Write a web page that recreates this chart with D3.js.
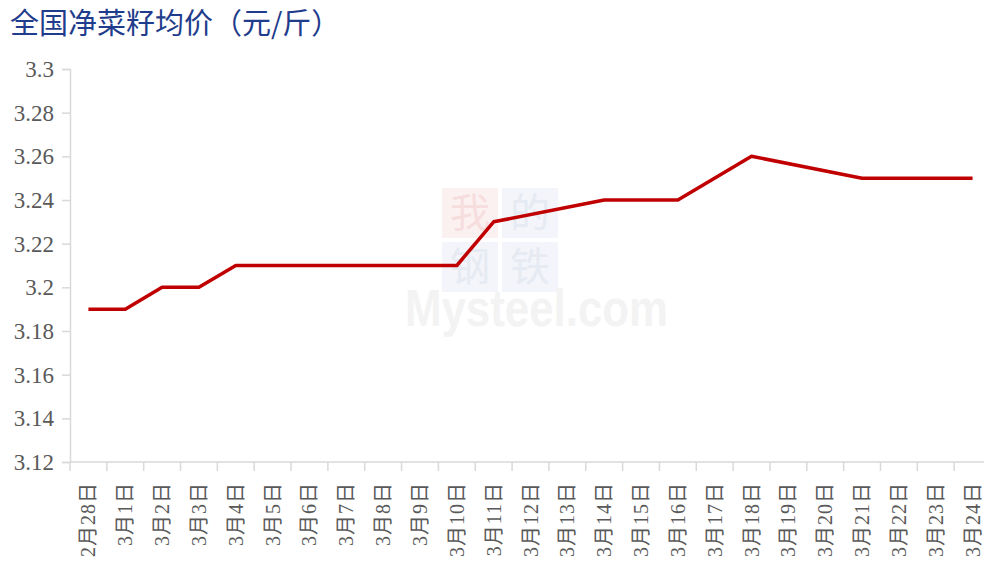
<!DOCTYPE html>
<html>
<head>
<meta charset="utf-8">
<script src="https://cdn.jsdelivr.net/npm/d3@7"></script>
<style>
  body { margin: 0; background: #fff; }
  svg { display: block; }
</style>
</head>
<body>
<div id="chart"></div>
<script>
var dates = ['2月28日', '3月1日', '3月2日', '3月3日', '3月4日', '3月5日', '3月6日', '3月7日', '3月8日', '3月9日',
  '3月10日', '3月11日', '3月12日', '3月13日', '3月14日', '3月15日', '3月16日', '3月17日', '3月18日', '3月19日',
  '3月20日', '3月21日', '3月22日', '3月23日', '3月24日'];
// null = no quote that day, line just connects across
var prices = [3.19, 3.19, 3.20, 3.20, 3.21, 3.21, 3.21, 3.21, 3.21, 3.21,
  3.21, 3.23, null, null, 3.24, 3.24, 3.24, null, 3.26, null,
  null, 3.25, 3.25, 3.25, 3.25];
var yTicks = [3.12, 3.14, 3.16, 3.18, 3.2, 3.22, 3.24, 3.26, 3.28, 3.3];

var width = 984, height = 565;
var margin = { top: 69, right: 991, bottom: 462, left: 70 };

var svg = d3.select('#chart').append('svg').attr('width', width).attr('height', height);

svg.append('text')
  .attr('x', 10).attr('y', 34)
  .attr('fill', '#1f3d8c')
  .style('font-family', '"Noto Sans CJK SC", sans-serif')
  .style('font-size', '29px')
  .text('全国净菜籽均价（元/斤）');

// watermark
var wm = svg.append('g');
var boxes = [[442, 188, '#fcf1f1', '我', '#f7dede'], [502, 188, '#f3f5fa', '的', '#e6eaf2'],
  [442, 242, '#f3f5fa', '钢', '#e6eaf2'], [502, 242, '#f3f5fa', '铁', '#e6eaf2']];
boxes.forEach(function (b) {
  wm.append('rect').attr('x', b[0]).attr('y', b[1]).attr('width', 56).attr('height', 50).attr('fill', b[2]);
  wm.append('text').attr('x', b[0] + 28).attr('y', b[1] + 39).attr('text-anchor', 'middle')
    .attr('fill', b[4]).style('font-family', '"Noto Sans CJK SC", sans-serif').style('font-size', '40px').text(b[3]);
});
wm.append('text')
  .attr('x', 405).attr('y', 326)
  .attr('fill', '#f3f3f3')
  .attr('textLength', 263).attr('lengthAdjust', 'spacingAndGlyphs')
  .style('font-family', 'Arial, "Liberation Sans", sans-serif')
  .style('font-weight', 'bold')
  .style('font-size', '52px')
  .text('Mysteel.com');

var x = d3.scaleBand().domain(dates).range([margin.left, margin.right]).padding(0);
var y = d3.scaleLinear().domain([3.12, 3.3]).range([margin.bottom, margin.top]);

var axisColor = '#d9d9d9';
var labelColor = '#595959';
var serif = '"Liberation Serif", "Noto Sans CJK SC", serif';

var gy = svg.append('g').attr('transform', 'translate(' + margin.left + ',0)')
  .call(d3.axisLeft(y).tickValues(yTicks).tickSize(8).tickPadding(8).tickFormat(d3.format('')));
gy.select('.domain').attr('stroke', axisColor).attr('stroke-width', 1.5);
gy.selectAll('.tick line').attr('stroke', axisColor).attr('stroke-width', 1.5);
gy.selectAll('.tick text').attr('fill', labelColor).style('font-family', serif).style('font-size', '23px');

var gx = svg.append('g').attr('transform', 'translate(0,' + margin.bottom + ')');
gx.append('line').attr('x1', margin.left).attr('x2', margin.right)
  .attr('stroke', axisColor).attr('stroke-width', 1.5);
var edges = dates.map(function (d) { return x(d); }).concat([margin.right]);
gx.selectAll('.edge').data(edges).enter().append('line')
  .attr('x1', function (d) { return d; }).attr('x2', function (d) { return d; })
  .attr('y1', 0).attr('y2', 9)
  .attr('stroke', axisColor).attr('stroke-width', 1.5);
gx.selectAll('.lbl').data(dates).enter().append('text')
  .attr('transform', function (d) { return 'translate(' + (x(d) + x.bandwidth() / 2) + ',20) rotate(-90)'; })
  .attr('text-anchor', 'end')
  .attr('dy', '0.35em')
  .attr('fill', labelColor)
  .style('font-family', serif)
  .style('font-size', '20px')
  .style('letter-spacing', '1px')
  .text(function (d) { return d; });

var pts = dates.map(function (d, i) { return { d: d, v: prices[i] }; })
  .filter(function (p) { return p.v !== null; });

var line = d3.line()
  .x(function (p) { return x(p.d) + x.bandwidth() / 2; })
  .y(function (p) { return y(p.v); });

svg.append('path').datum(pts)
  .attr('d', line)
  .attr('fill', 'none')
  .attr('stroke', '#c00000')
  .attr('stroke-width', 3.5)
  .attr('stroke-linejoin', 'round');
</script>
</body>
</html>
